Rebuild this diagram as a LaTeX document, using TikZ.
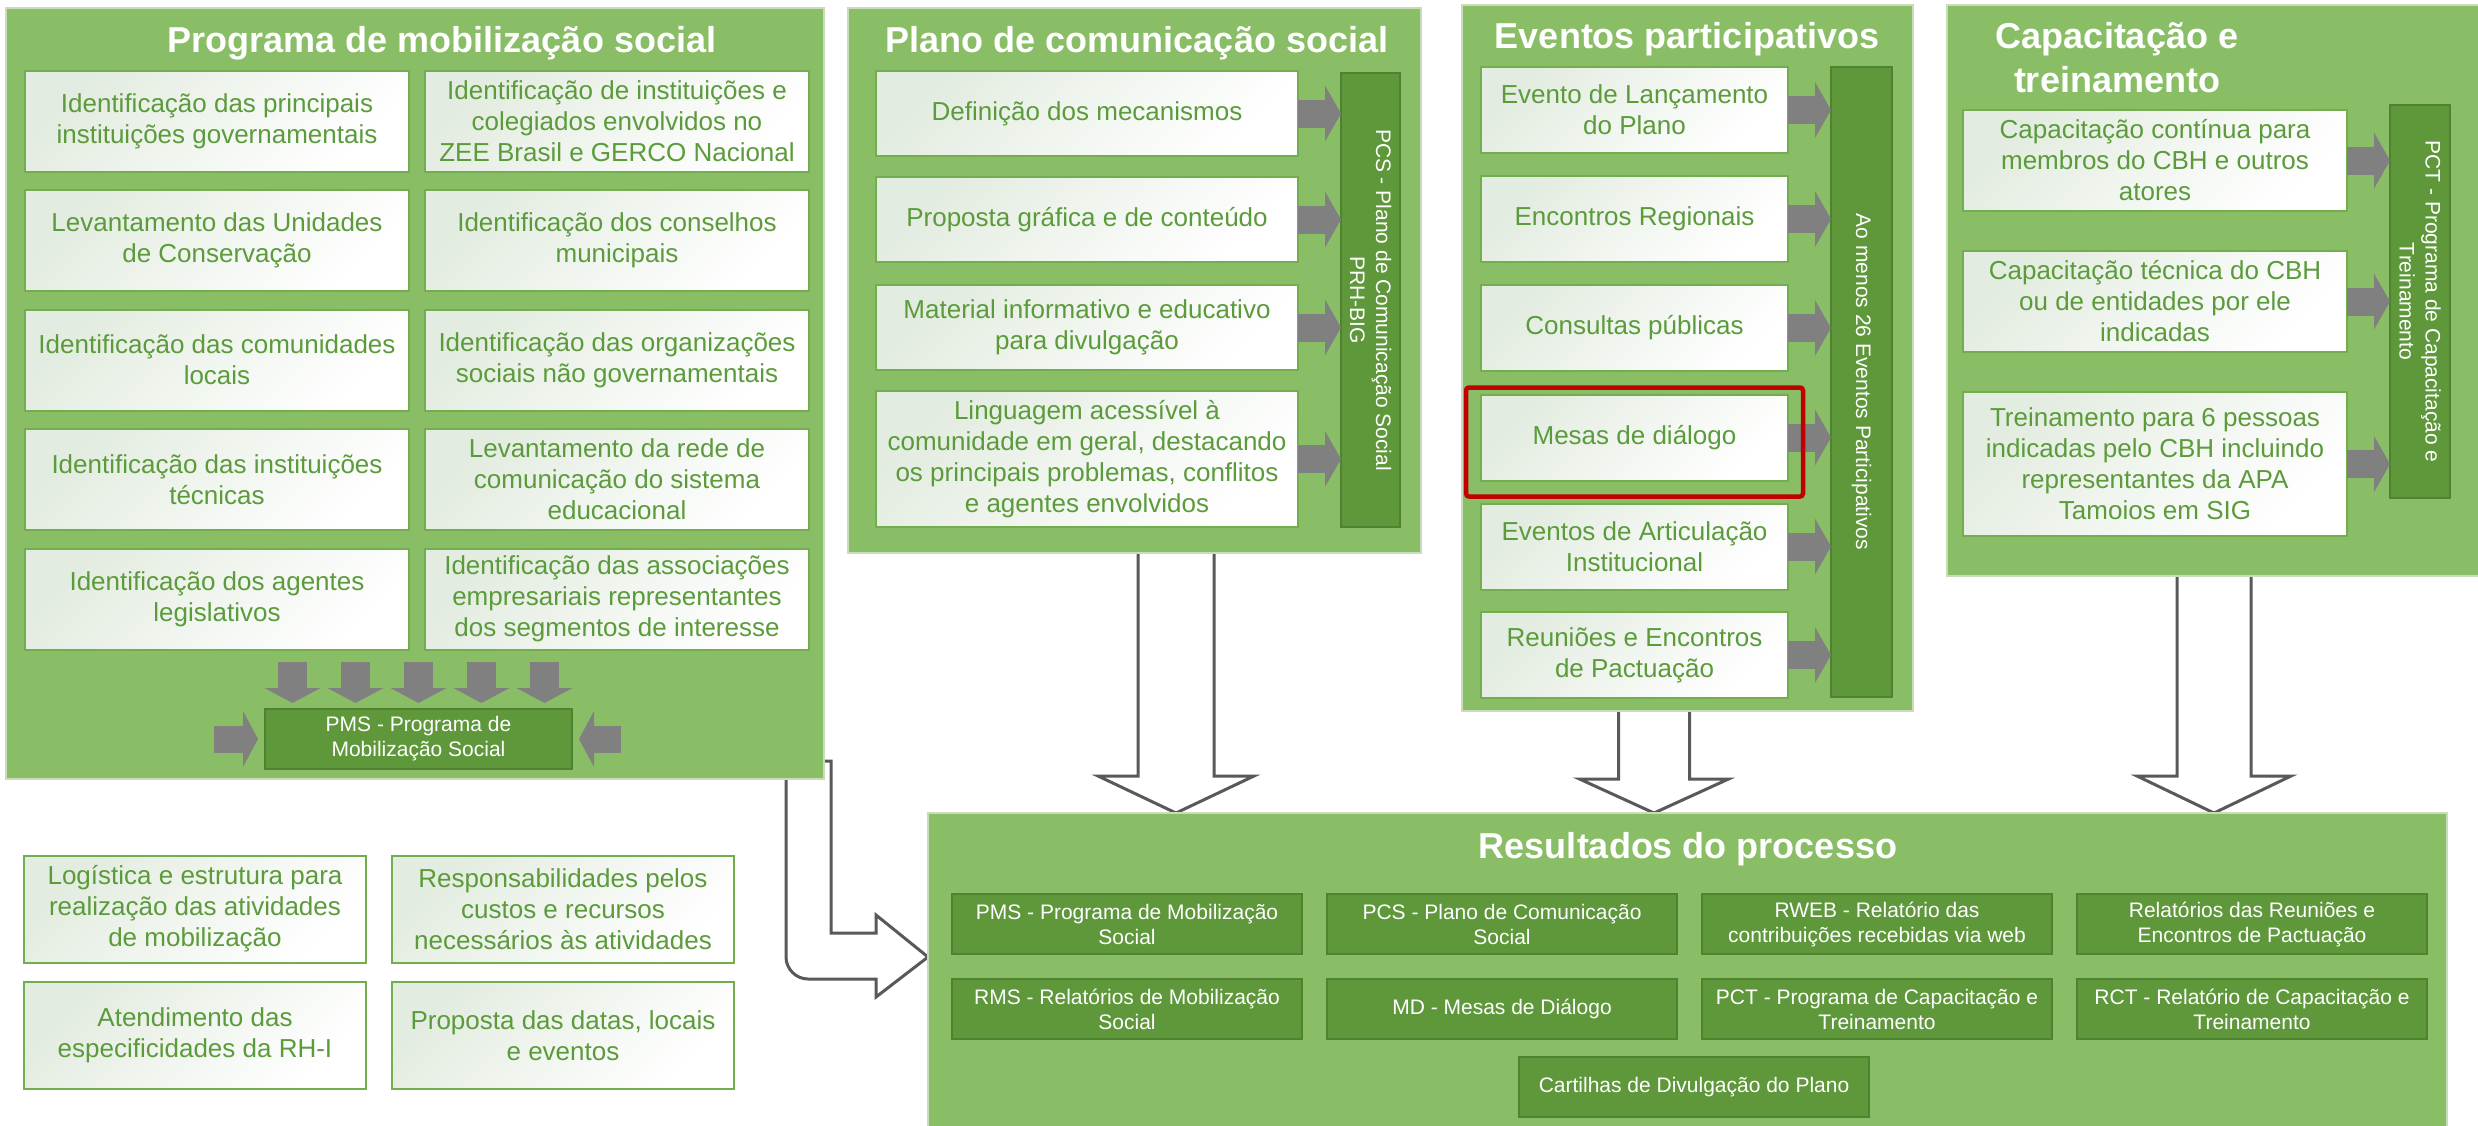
\documentclass[tikz,border=0pt]{standalone}
\usepackage{fontspec}
\setmainfont{Liberation Sans}
\usetikzlibrary{arrows.meta,calc,backgrounds}

\definecolor{panelgreen}{HTML}{8ABE66}
\definecolor{panelline}{HTML}{C9DDBB}
\definecolor{bargreen}{HTML}{5E983B}
\definecolor{bardark}{HTML}{4F8231}
\definecolor{textgreen}{HTML}{5B9B3B}
\definecolor{boxborder}{HTML}{72AE4E}
\definecolor{boxshade}{HTML}{E3ECE0}
\definecolor{arrowgrey}{HTML}{808080}
\definecolor{hollowline}{HTML}{595959}
\definecolor{framered}{HTML}{C00000}

\newcommand\fBody{\fontsize{26}{31}\selectfont}
\newcommand\fTitle{\fontsize{36}{44}\selectfont\bfseries}
\newcommand\fSmall{\fontsize{21}{25}\selectfont}
\newcommand\fVert{\fontsize{21}{26}\selectfont}
\newcommand\hollowdown[5]{%
  \draw[hollow] ($(#1)+(-#3,0)$) -- ($(#2)+(-#3,-#5)$) -- ($(#2)+(-#4,-#5)$) -- (#2)
    -- ($(#2)+(#4,-#5)$) -- ($(#2)+(#3,-#5)$) -- ($(#1)+(#3,0)$);}

\tikzset{
  panel/.style={fill=panelgreen, draw=panelline, line width=1.5pt, inner sep=0pt, outer sep=0pt},
  ptitle/.style={text=white, font=\fTitle, inner sep=0pt, anchor=base, align=center},
  wbox/.style={draw=boxborder, line width=2pt, top color=boxshade, middle color=white, bottom color=white, shading angle=45,
    text=textgreen, font=\fBody, align=center, inner sep=0pt, outer sep=0pt},
  pbox/.style={wbox, minimum width=384pt, minimum height=101pt},
  cbox/.style={wbox, minimum width=422pt, minimum height=85pt},
  ebox/.style={wbox, minimum width=307pt, minimum height=86pt},
  tbox/.style={wbox, minimum width=384pt, minimum height=101pt},
  lbox/.style={wbox, minimum width=342pt, minimum height=107pt},
  bar/.style={fill=bargreen, draw=bardark, line width=2pt, inner sep=0pt, outer sep=0pt},
  vtext/.style={text=white, font=\fVert, align=center, rotate=-90, inner sep=0pt},
  rbox/.style={fill=bargreen, draw=bardark, line width=2pt, text=white, font=\fSmall, align=center,
    inner sep=0pt, outer sep=0pt, minimum width=350pt, minimum height=60pt},
  rarrow/.style={draw=arrowgrey, line width=28pt, -{Triangle[width=56pt,length=16pt,line width=0pt]}},
  darrow/.style={draw=arrowgrey, line width=29pt, -{Triangle[width=56pt,length=15pt,line width=0pt]}},
  sarrow/.style={draw=arrowgrey, line width=27pt, -{Triangle[width=56pt,length=15pt,line width=0pt]}},
  hollow/.style={draw=hollowline, line width=3pt, fill=white, line join=miter},
  redframe/.style={draw=framered, line width=4.5pt, rounded corners=3pt},
}

\begin{document}
\begin{tikzpicture}[x=1pt,y=-1pt]
\useasboundingbox (0,0) rectangle (2478,1125);
\begin{pgfonlayer}{background}
  \fill[white] (0,0) rectangle (2478,1125);
\end{pgfonlayer}

% ---------- Panel 1: Programa de mobilizacao social ----------
\node[panel, minimum width=818pt, minimum height=771pt] (p1) at (415,393.5) {};
\node[ptitle] (p1t) at (442,52) {Programa de mobilização social};
\node[pbox] (m1) at (217,121) {Identificação das principais\\instituições governamentais};
\node[pbox] (m2) at (617,121) {Identificação de instituições e\\colegiados envolvidos no\\ZEE Brasil e GERCO Nacional};
\node[pbox] (m3) at (217,240.5) {Levantamento das Unidades\\de Conservação};
\node[pbox] (m4) at (617,240.5) {Identificação dos conselhos\\municipais};
\node[pbox] (m5) at (217,360) {Identificação das comunidades\\locais};
\node[pbox] (m6) at (617,360) {Identificação das organizações\\sociais não governamentais};
\node[pbox] (m7) at (217,479.5) {Identificação das instituições\\técnicas};
\node[pbox] (m8) at (617,479.5) {Levantamento da rede de\\comunicação do sistema\\educacional};
\node[pbox] (m9) at (217,599) {Identificação dos agentes\\legislativos};
\node[pbox] (m10) at (617,599) {Identificação das associações\\empresariais representantes\\dos segmentos de interesse};
\node[bar, text=white, font=\fSmall, align=center, minimum width=307pt, minimum height=60pt] (pms) at (418.5,739) {PMS - Programa de\\Mobilização Social};
\foreach \dx in {-126,-63,0,63,126} {
  \draw[darrow] ([xshift=\dx pt,yshift=47pt]pms.north) -- ([xshift=\dx pt,yshift=6pt]pms.north);
}
\draw[sarrow] ([xshift=-51pt]pms.west) -- ([xshift=-7pt]pms.west);
\draw[sarrow] ([xshift=49pt]pms.east) -- ([xshift=7pt]pms.east);

% ---------- Panel 2: Plano de comunicacao social ----------
\node[panel, minimum width=573pt, minimum height=545pt] (p2) at (1134.5,280.5) {};
\node[ptitle] (p2t) at (1137,52) {Plano de comunicação social};
\node[cbox] (c1) at (1087,113.5) {Definição dos mecanismos};
\node[cbox] (c2) at (1087,219.5) {Proposta gráfica e de conteúdo};
\node[cbox] (c3) at (1087,327.5) {Material informativo e educativo\\para divulgação};
\node[cbox, minimum height=136pt] (c4) at (1087,459) {Linguagem acessível à\\comunidade em geral, destacando\\os principais problemas, conflitos\\e agentes envolvidos};
\node[bar, minimum width=59pt, minimum height=454pt] (pcs) at (1370.5,300) {};
\node[vtext] (pcst) at (pcs.center) {PCS - Plano de Comunicação Social\\PRH-BIG};
\foreach \b in {c1,c2,c3,c4} { \draw[rarrow] (\b.east) -- (\b.east -| pcs.west); }

% ---------- Panel 3: Eventos participativos ----------
\node[panel, minimum width=451pt, minimum height=706pt] (p3) at (1687.5,358) {};
\node[ptitle] (p3t) at (1687,48) {Eventos participativos};
\node[ebox] (e1) at (1634.5,110) {Evento de Lançamento\\do Plano};
\node[ebox] (e2) at (1634.5,219) {Encontros Regionais};
\node[ebox] (e3) at (1634.5,328) {Consultas públicas};
\node[ebox] (e4) at (1634.5,437.5) {Mesas de diálogo};
\node[ebox] (e5) at (1634.5,546.5) {Eventos de Articulação\\Institucional};
\node[ebox] (e6) at (1634.5,655) {Reuniões e Encontros\\de Pactuação};
\node[bar, minimum width=61pt, minimum height=630pt] (ev) at (1861.5,382) {};
\node[vtext] (evt) at (ev.center) {Ao menos 26 Eventos Participativos};
\foreach \b in {e1,e2,e3,e4,e5,e6} { \draw[rarrow] (\b.east) -- (\b.east -| ev.west); }
\draw[redframe] ([xshift=-15pt,yshift=7pt]e4.north west) rectangle ([xshift=15pt,yshift=-16pt]e4.south east);

% ---------- Panel 4: Capacitacao e treinamento ----------
\node[panel, minimum width=543pt, minimum height=571pt] (p4) at (2218.5,290.5) {};
\node[ptitle] (p4t) at (2117,92) {Capacitação e\\treinamento};
\node[tbox] (t1) at (2155,160.5) {Capacitação contínua para\\membros do CBH e outros\\atores};
\node[tbox] (t2) at (2155,301.5) {Capacitação técnica do CBH\\ou de entidades por ele\\indicadas};
\node[tbox, minimum height=144pt] (t3) at (2155,464) {Treinamento para 6 pessoas\\indicadas pelo CBH incluindo\\representantes da APA\\Tamoios em SIG};
\node[bar, minimum width=60pt, minimum height=393pt] (pct) at (2420,301.5) {};
\node[vtext] (pctt) at (pct.center) {PCT - Programa de Capacitação e\\Treinamento};
\foreach \b in {t1,t2,t3} { \draw[rarrow] (\b.east) -- (\b.east -| pct.west); }

% ---------- Resultados do processo ----------
\node[panel, minimum width=1519pt, minimum height=320pt] (res) at (1687.5,973) {};
\node[ptitle] (rest) at (1688,858) {Resultados do processo};
\node[rbox] (r1) at (1127,924) {PMS - Programa de Mobilização\\Social};
\node[rbox] (r2) at (1502,924) {PCS - Plano de Comunicação\\Social};
\node[rbox] (r3) at (1877,924) {RWEB - Relatório das\\contribuições recebidas via web};
\node[rbox] (r4) at (2252,924) {Relatórios das Reuniões e\\Encontros de Pactuação};
\node[rbox] (r5) at (1127,1009) {RMS - Relatórios de Mobilização\\Social};
\node[rbox] (r6) at (1502,1009) {MD - Mesas de Diálogo};
\node[rbox] (r7) at (1877,1009) {PCT - Programa de Capacitação e\\Treinamento};
\node[rbox] (r8) at (2252,1009) {RCT - Relatório de Capacitação e\\Treinamento};
\node[rbox] (r9) at (1694,1087) {Cartilhas de Divulgação do Plano};

% ---------- bottom-left boxes ----------
\node[lbox] (l1) at (195,909) {Logística e estrutura para\\realização das atividades\\de mobilização};
\node[lbox] (l2) at (563,909) {Responsabilidades pelos\\custos e recursos\\necessários às atividades};
\node[lbox] (l3) at (195,1035.5) {Atendimento das\\especificidades da RH-I};
\node[lbox] (l4) at (563,1035.5) {Proposta das datas, locais\\e eventos};

% ---------- hollow arrows (behind panels) ----------
\path (p2.south) ++(41.5,-20) coordinate (a1top);
\coordinate (a1tip) at (a1top |- res.north);
\path (p3.south) ++(-33.5,-20) coordinate (a2top);
\coordinate (a2tip) at (a2top |- res.north);
\path (p4.south) ++(-4.5,-20) coordinate (a3top);
\coordinate (a3tip) at (a3top |- res.north);
\path (p1.south east) ++(-38,-18) coordinate (bendtop);
\path (res.north west) ++(0,144) coordinate (bendtip);
\coordinate (bendcorner) at (bendtop |- bendtip);
\begin{pgfonlayer}{background}
  \hollowdown{a1top}{a1tip}{38}{78}{37}
  \hollowdown{a2top}{a2tip}{35.5}{74.5}{34}
  \hollowdown{a3top}{a3tip}{37}{77}{37}
  \draw[hollow] (bendtop) -- ++(45,0) -- ($(bendcorner)+(45,-24)$) -- ($(bendtip)+(-52,-24)$)
    -- ($(bendtip)+(-52,-42)$) -- (bendtip) -- ($(bendtip)+(-52,40)$) -- ($(bendtip)+(-52,22)$)
    -- ($(bendcorner)+(22,22)$) .. controls ($(bendcorner)+(10,22)$) and ($(bendcorner)+(0,12)$) .. (bendcorner)
    -- cycle;
\end{pgfonlayer}
\end{tikzpicture}
\end{document}
